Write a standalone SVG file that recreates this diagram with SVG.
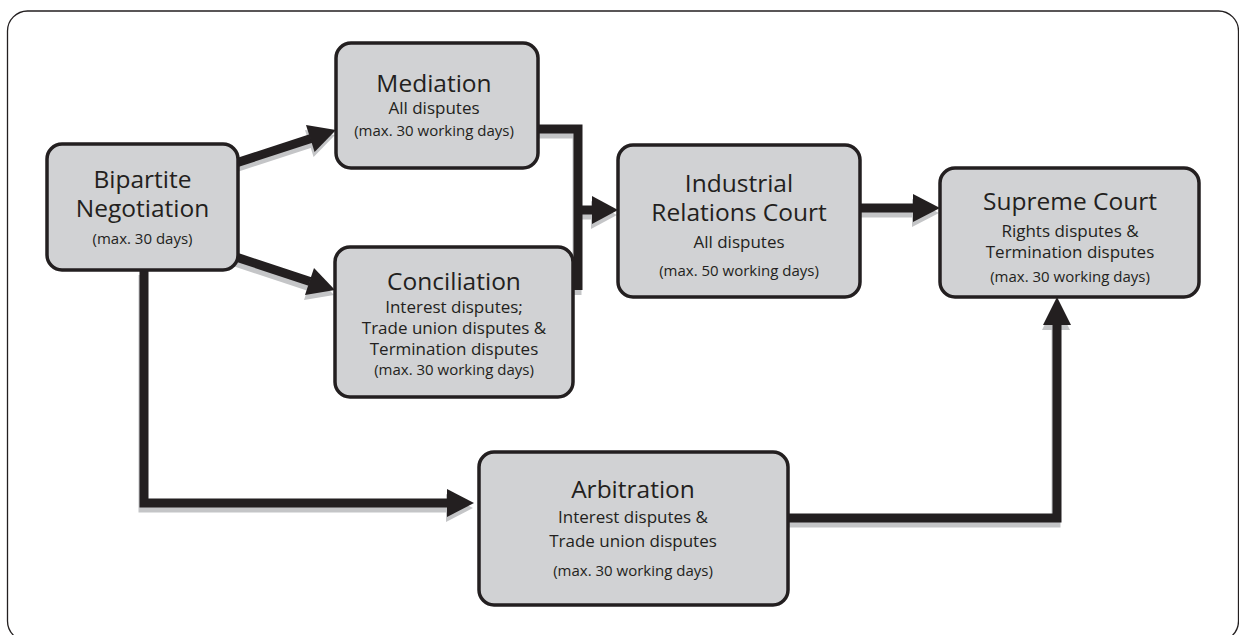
<svg xmlns="http://www.w3.org/2000/svg" width="1239" height="635" viewBox="0 0 1239 635">
<style>
.node rect{fill:#d1d2d4;stroke:#231f20;stroke-width:3.5}
text{font-family:"Open Sans","Noto Sans","Liberation Sans",sans-serif;fill:#231f20;text-anchor:middle}
.t{font-size:24.5px}
.m{font-size:17px}
.s{font-size:15px}
.ln{fill:none;stroke-width:9;stroke-linejoin:miter;stroke-linecap:butt}
.hd{stroke:none}
</style>
<rect x="0" y="0" width="1239" height="635" fill="#ffffff"/>
<rect x="7.5" y="11" width="1231" height="630" rx="20" fill="#ffffff" stroke="#231f20" stroke-width="1.3"/>
<defs>
<g id="conn">
<path class="ln" d="M236,163 L311,138.5"/>
<polygon class="hd" points="306,125 336,130 314.6,152"/>
<path class="ln" d="M236,257 L310,281.5"/>
<polygon class="hd" points="314,268 335,290 305,295"/>
<path class="ln" d="M538,129 H578 V290"/>
<path class="ln" d="M578,210 H594"/>
<polygon class="hd" points="592,196 618,210 592,224"/>
<path class="ln" d="M860,208 H914"/>
<polygon class="hd" points="913,194 940,208 913,222"/>
<path class="ln" d="M144,270 V503 H448"/>
<polygon class="hd" points="447,489 474,503 447,517"/>
<path class="ln" d="M788,518 H1057 V324"/>
<polygon class="hd" points="1043,325 1057,297 1071,325"/>
</g>
</defs>
<g id="connectors">
<use href="#conn" fill="#c4c5c7" stroke="#c4c5c7" transform="translate(-1,5)"/>
<use href="#conn" fill="#231f20" stroke="#231f20"/>
</g>
<g id="bipartite" class="node">
<rect x="47" y="144" width="191" height="126" rx="15"/>
<text class="t" x="142.5" y="188">Bipartite</text>
<text class="t" x="142.5" y="217">Negotiation</text>
<text class="s" x="142.5" y="244">(max. 30 days)</text>
</g>
<g id="mediation" class="node">
<rect x="336" y="43" width="202" height="125" rx="15"/>
<text class="t" x="434" y="92">Mediation</text>
<text class="m" x="434" y="114">All disputes</text>
<text class="s" x="434" y="136">(max. 30 working days)</text>
</g>
<g id="conciliation" class="node">
<rect x="335" y="247" width="238" height="150" rx="15"/>
<text class="t" x="454" y="290">Conciliation</text>
<text class="m" x="454" y="313">Interest disputes;</text>
<text class="m" x="454" y="334">Trade union disputes &amp;</text>
<text class="m" x="454" y="355">Termination disputes</text>
<text class="s" x="454" y="375">(max. 30 working days)</text>
</g>
<g id="industrial" class="node">
<rect x="618" y="145" width="242" height="152" rx="15"/>
<text class="t" x="739" y="192">Industrial</text>
<text class="t" x="739" y="221">Relations Court</text>
<text class="m" x="739" y="248">All disputes</text>
<text class="s" x="739" y="276">(max. 50 working days)</text>
</g>
<g id="supreme" class="node">
<rect x="940" y="168" width="259" height="129" rx="15"/>
<text class="t" x="1070" y="210">Supreme Court</text>
<text class="m" x="1070" y="237">Rights disputes &amp;</text>
<text class="m" x="1070" y="258">Termination disputes</text>
<text class="s" x="1070" y="282">(max. 30 working days)</text>
</g>
<g id="arbitration" class="node">
<rect x="479" y="452" width="309" height="153" rx="15"/>
<text class="t" x="633" y="498">Arbitration</text>
<text class="m" x="633" y="523">Interest disputes &amp;</text>
<text class="m" x="633" y="547">Trade union disputes</text>
<text class="s" x="633" y="576">(max. 30 working days)</text>
</g>
</svg>
